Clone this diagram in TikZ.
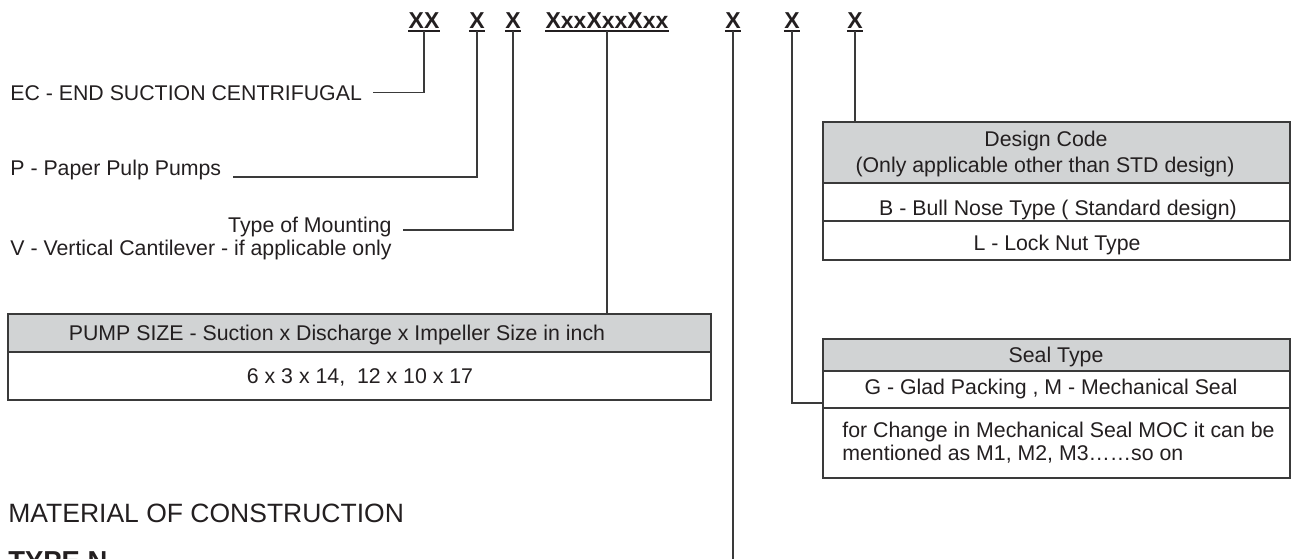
\documentclass[tikz,border=0pt]{standalone}
\usepackage{fontspec}
\setmainfont{Liberation Sans}
\definecolor{ink}{HTML}{231F20}
\definecolor{edge}{HTML}{3A3A3A}
\definecolor{hdr}{HTML}{D1D3D4}
\begin{document}
\begin{tikzpicture}[x=0.5pt,y=-0.5pt,
  txt/.style={inner sep=0pt, text=ink, font=\fontsize{10.65}{13}\selectfont},
  code/.style={inner sep=0pt, text=ink, font=\fontsize{11.5}{13}\selectfont\bfseries, anchor=base},
  cell/.style={draw=edge, line width=1pt, inner sep=0pt},
  dcell/.style={cell, minimum width=233.5pt},
  pcell/.style={cell, minimum width=351.5pt},
  conn/.style={draw=edge, line width=0.75pt},
  uline/.style={draw=ink, line width=1pt},
]
\useasboundingbox (0,0) rectangle (1292,558);

% code letters
\node[code] (a) at (424,28) {XX};
\node[code] (b) at (477,28) {X};
\node[code] (c) at (513,28) {X};
\node[code] (d) at (607,28) {XxxXxxXxx};
\node[code] (e) at (733,28) {X};
\node[code] (f) at (792,28) {X};
\node[code] (g) at (855,28) {X};
\foreach \n in {a,b,c,d,e,f,g}{
  \draw[uline] ([yshift=-1.25pt]\n.base west) -- ([yshift=-1.25pt]\n.base east);
  \coordinate (u\n) at ([yshift=-1.25pt]\n.base);
}

% left labels
\node[txt, anchor=base west] (ec) at (10,100) {EC - END SUCTION CENTRIFUGAL};
\node[txt, anchor=base west] (pp) at (10,175) {P - Paper Pulp Pumps};
\node[txt, anchor=base east] (tm) at (392,232) {Type of Mounting};
\node[txt, anchor=base east] (vc) at (392,255) {V - Vertical Cantilever - if applicable only};

% pump size box
\node[pcell, fill=hdr, minimum height=19pt] (pH) at (359.5,333) {};
\node[pcell, minimum height=24pt] (pB) at (359.5,376) {};
\node[txt, anchor=base] (pHt) at (337,340.6) {PUMP SIZE - Suction x Discharge x Impeller Size in inch};
\node[txt, anchor=base] (pBt) at (360,383.6) {6 x 3 x 14,~~12 x 10 x 17};

% design code box
\node[dcell, fill=hdr, minimum height=30.5pt] (dH) at (1056.5,152.5) {};
\node[dcell, minimum height=19pt] (dB) at (1056.5,202) {};
\node[dcell, minimum height=19.5pt] (dL) at (1056.5,240.5) {};
\node[txt, anchor=base] (dHt1) at (1046,146) {Design Code};
\node[txt, anchor=base] (dHt2) at (1045,172) {(Only applicable other than STD design)};
\node[txt, anchor=base] (dBt) at (1058,215) {B - Bull Nose Type ( Standard design)};
\node[txt, anchor=base] (dLt) at (1057,250) {L - Lock Nut Type};

% seal type box
\node[dcell, fill=hdr, minimum height=16pt] (sH) at (1056.5,355) {};
\node[dcell, minimum height=18.5pt] (sG) at (1056.5,389.5) {};
\node[dcell, minimum height=35pt] (sM) at (1056.5,443) {};
\node[txt, anchor=base] (sHt) at (1056,362) {Seal Type};
\node[txt, anchor=base] (sGt) at (1051,394) {G - Glad Packing , M - Mechanical Seal};
\node[txt, anchor=base west] (sMt1) at (842,437) {for Change in Mechanical Seal MOC it can be};
\node[txt, anchor=base west] (sMt2) at (842,460) {mentioned as M1, M2, M3……so on};

% material
\node[txt, anchor=base west, font=\fontsize{13.25}{15}\selectfont] (moc) at (8,522) {MATERIAL OF CONSTRUCTION};
\node[txt, anchor=base west, font=\fontsize{13.7}{15}\selectfont\bfseries] (typen) at (8,570) {TYPE N};

% connectors
\coordinate (bot) at (733,560);
\draw[conn] (ua) |- ([xshift=5.5pt]ec.east);
\draw[conn] (ub) |- ([xshift=5.5pt,yshift=-1pt]pp.base east);
\draw[conn] (uc) |- ([xshift=5.5pt,yshift=1pt]tm.base east);
\draw[conn] (ud) -- (ud |- pH.north);
\draw[conn] (ue) -- (ue |- bot);
\draw[conn] (uf) |- ([yshift=-6.75pt]sG.west);
\draw[conn] (ug) -- (ug |- dH.north);
\end{tikzpicture}
\end{document}
